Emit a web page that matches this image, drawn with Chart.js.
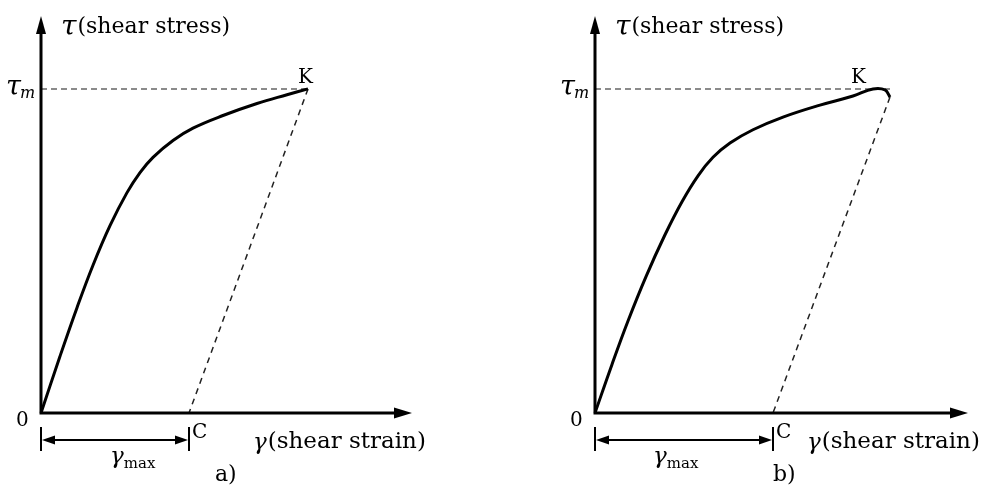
<!DOCTYPE html>
<html>
<head>
<meta charset="utf-8">
<script src="https://cdn.jsdelivr.net/npm/chart.js@4.4.1/dist/chart.umd.min.js"></script>
<style>
    html, body { margin: 0; padding: 0; background: #fff; }
    #wrap { position: relative; width: 983px; height: 486px; overflow: hidden; }
    canvas { position: absolute; top: 0; }
</style>
</head>
<body>
<div id="wrap">
    <canvas id="chartA" width="491" height="486" style="left:0"></canvas>
    <canvas id="chartB" width="429" height="486" style="left:554px"></canvas>
</div>
<script>
// Shear stress (tau / tau_m) vs shear strain, arbitrary units

// --- Panel a) ---
const strainA = [0, 0.19, 0.36, 0.52, 0.69, 0.86, 0.99, 1.12, 1.32, 1.52, 1.82, 2.16, 2.46, 2.67];
const stressA = [0, 0.175, 0.325, 0.456, 0.578, 0.680, 0.742, 0.789, 0.841, 0.879, 0.918, 0.955, 0.982, 1.0];
const gammaMaxA = 1.48;   // point C on strain axis

// --- Panel b) ---
const strainB = [0, 0.17, 0.33, 0.51, 0.70, 0.87, 1.03, 1.18, 1.35, 1.58, 1.88, 2.25, 2.58, 2.78, 2.90, 2.95];
const stressB = [0, 0.150, 0.284, 0.421, 0.550, 0.652, 0.732, 0.789, 0.833, 0.874, 0.913, 0.950, 0.978, 1.0, 0.997, 0.975];
const gammaMaxB = 1.78;

const tauM = 1.0;
const serif = "'DejaVu Serif', serif";

function arrowHead(ctx, x, y, dx, dy, len, half) {
    const nx = -dy, ny = dx;
    ctx.beginPath();
    ctx.moveTo(x, y);
    ctx.lineTo(x - dx * len + nx * half, y - dy * len + ny * half);
    ctx.lineTo(x - dx * len - nx * half, y - dy * len - ny * half);
    ctx.closePath();
    ctx.fill();
}

function txt(ctx, s, x, y, size, italic) {
    ctx.font = (italic ? 'italic ' : '') + size + 'px ' + serif;
    ctx.fillText(s, x, y);
    return ctx.measureText(s).width;
}

// draws axes, arrows, dimension line and labels around the plotted curves
function diagramPlugin(opts) {
    return {
        id: 'diagram',
        afterDatasetsDraw(chart) {
            const ctx = chart.ctx;
            const xs = chart.scales.x, ys = chart.scales.y;
            const ox = xs.getPixelForValue(0), oy = ys.getPixelForValue(0);
            const xEnd = chart.chartArea.right, yTop = chart.chartArea.top;
            const cx = xs.getPixelForValue(opts.gammaMax);
            const ky = ys.getPixelForValue(tauM);

            ctx.save();
            ctx.fillStyle = '#000';
            ctx.strokeStyle = '#000';

            // axes
            ctx.lineWidth = 3;
            ctx.beginPath();
            ctx.moveTo(ox, oy + 1.5);
            ctx.lineTo(ox, yTop + 14);
            ctx.moveTo(ox - 1.5, oy);
            ctx.lineTo(xEnd - 14, oy);
            ctx.stroke();
            arrowHead(ctx, ox, yTop, 0, -1, 18, 5);
            arrowHead(ctx, xEnd, oy, 1, 0, 18, 5.5);

            // gamma_max dimension line
            const dimY = oy + 27;
            ctx.lineWidth = 2;
            ctx.beginPath();
            ctx.moveTo(ox, oy + 14); ctx.lineTo(ox, oy + 38);
            ctx.moveTo(cx, oy + 14); ctx.lineTo(cx, oy + 38);
            ctx.moveTo(ox + 10, dimY); ctx.lineTo(cx - 10, dimY);
            ctx.stroke();
            arrowHead(ctx, ox + 1, dimY, -1, 0, 13, 4.5);
            arrowHead(ctx, cx - 1, dimY, 1, 0, 13, 4.5);

            // labels
            ctx.fillStyle = '#000';
            ctx.textBaseline = 'alphabetic';
            let w = txt(ctx, '\u03C4', ox + 20, yTop + 19, 28, true);
            txt(ctx, '(shear stress)', ox + 20 + w + 1, yTop + 17, 22, false);

            w = txt(ctx, '\u03C4', ox - 35, ky + 6, 27, true);
            txt(ctx, 'm', ox - 35 + w - 1, ky + 9, 16, true);

            txt(ctx, 'K', xs.getPixelForValue(opts.kLabel), ky - 6, 20, false);
            txt(ctx, '0', ox - 25, oy + 13, 20, false);
            txt(ctx, 'C', cx + 3, oy + 25, 20, false);

            w = txt(ctx, '\u03B3', ox + 212, oy + 36, 23, true);
            txt(ctx, '(shear strain)', ox + 212 + w + 1, oy + 35, 23, false);

            w = txt(ctx, '\u03B3', opts.gmLeft, oy + 50, 23, true);
            txt(ctx, 'max', opts.gmLeft + w, oy + 55, 15, false);

            txt(ctx, opts.tag, opts.tagLeft, oy + 68, 22, false);
            ctx.restore();
        }
    };
}

function makeChart(id, strain, stress, peak, gammaMax, xMax, padRight, extra) {
    const pts = strain.map((x, i) => ({ x: x, y: stress[i] }));
    return new Chart(document.getElementById(id), {
        type: 'line',
        data: {
            datasets: [
                {
                    data: pts,
                    borderColor: '#000',
                    borderWidth: 3,
                    tension: 0.4,
                    pointRadius: 0,
                    clip: false
                },
                {
                    data: [{ x: 0, y: tauM }, { x: peak.x, y: tauM }],
                    borderColor: '#666',
                    borderWidth: 1.5,
                    borderDash: [6, 4],
                    pointRadius: 0,
                    clip: false
                },
                {
                    data: [{ x: peak.x, y: peak.y }, { x: gammaMax, y: 0 }],
                    borderColor: '#222',
                    borderWidth: 1.5,
                    borderDash: [6, 5],
                    pointRadius: 0,
                    clip: false
                }
            ]
        },
        options: {
            responsive: false,
            animation: false,
            events: [],
            layout: { padding: { left: 41, top: 16, right: padRight, bottom: 73 } },
            scales: {
                x: { type: 'linear', display: false, min: 0, max: xMax },
                y: { type: 'linear', display: false, min: 0, max: 1.225 }
            },
            plugins: { legend: { display: false }, tooltip: { enabled: false } }
        },
        plugins: [diagramPlugin(Object.assign({ gammaMax: gammaMax }, extra))]
    });
}

makeChart('chartA', strainA, stressA,
    { x: strainA[strainA.length - 1], y: stressA[stressA.length - 1] },
    gammaMaxA, 3.71, 79,
    { kLabel: 2.57, gmLeft: 110, tag: 'a)', tagLeft: 215 });

makeChart('chartB', strainB, stressB,
    { x: strainB[strainB.length - 1], y: stressB[stressB.length - 1] },
    gammaMaxB, 3.73, 15,
    { kLabel: 2.56, gmLeft: 99, tag: 'b)', tagLeft: 219 });
</script>
</body>
</html>
